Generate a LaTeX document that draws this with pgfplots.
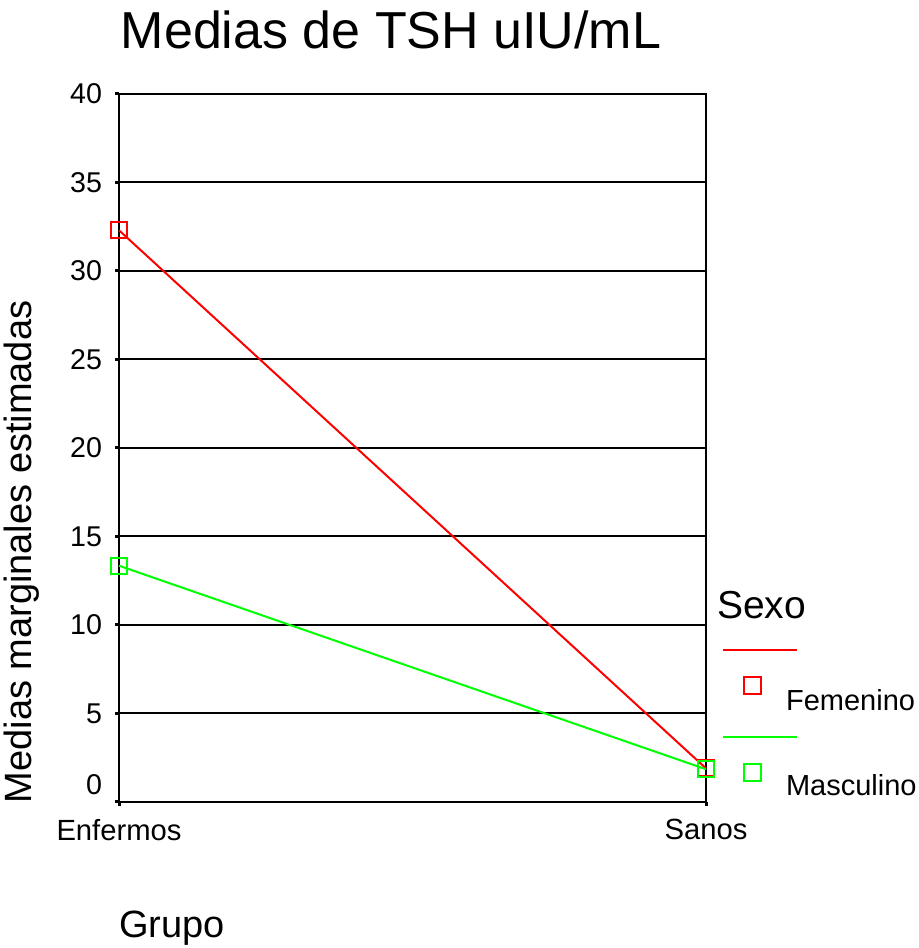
\documentclass[border=0pt]{standalone}
\usepackage{pgfplots}
\pgfplotsset{compat=1.18}
\usepackage{fontspec}
\setmainfont{Liberation Sans}
\definecolor{pred}{RGB}{255,0,0}
\definecolor{pgreen}{RGB}{0,255,0}
\begin{document}
\begin{tikzpicture}[x=0.5pt,y=0.5pt]
\useasboundingbox (0,0) rectangle (919,948);
\begin{axis}[
  at={(59.5pt,73pt)}, anchor=origin,
  scale only axis, width=293.5pt, height=354pt,
  xmin=0, xmax=1, ymin=0, ymax=40,
  xtick={0,1}, xticklabels={Enfermos,Sanos},
  ytick={5,10,...,40},
  extra y ticks={0},
  extra y tick style={yticklabel style={yshift=8.5pt}},
  ymajorgrids, grid style={black, line width=1pt},
  axis line style={black, line width=1pt},
  tick align=outside, major tick length=2pt,
  tick style={black, line width=1.5pt},
  xtick pos=bottom, ytick pos=left,
  /pgf/number format/assume math mode=true,
  yticklabel style={font=\fontsize{14.3}{17}\selectfont, xshift=-3pt},
  xticklabel style={font=\fontsize{14.6}{17}\selectfont, yshift=-3pt},
  clip=false,
]
\addplot[pred, line width=1pt, mark=square, mark size=4pt, mark options={solid}] coordinates {(0,32.3) (1,1.9)};
\addplot[pgreen, line width=1pt, mark=square, mark size=4pt, mark options={solid}] coordinates {(0,13.35) (1,1.85)};
\end{axis}
\node[font=\fontsize{26}{31}\selectfont] at (391,918) {Medias de TSH uIU/mL};
\node[font=\fontsize{19}{23}\selectfont, rotate=90] at (22,396) {Medias marginales estimadas};
\node[font=\fontsize{19}{23}\selectfont] at (172,20) {Grupo};
\node[font=\fontsize{19.5}{23}\selectfont, anchor=west] at (710,343) {Sexo};
\draw[pred, line width=1pt] (723,298) -- (797,298);
\draw[pred, line width=1pt] (744,254) rectangle (761,271);
\node[font=\fontsize{14.5}{17}\selectfont, anchor=west] at (779,248) {Femenino};
\draw[pgreen, line width=1pt] (723,211) -- (797,211);
\draw[pgreen, line width=1pt] (744,167) rectangle (761,184);
\node[font=\fontsize{14.5}{17}\selectfont, anchor=west] at (779,163) {Masculino};
\end{tikzpicture}
\end{document}
